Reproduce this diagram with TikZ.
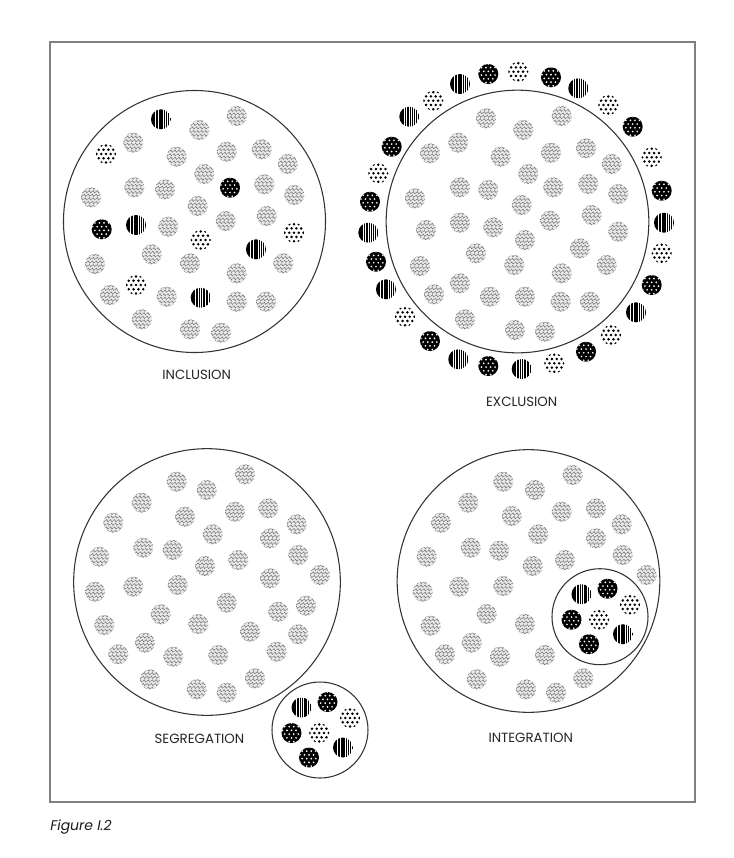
\documentclass[tikz,border=0pt]{standalone}
\usepackage{fontspec}
\usetikzlibrary{calc}
\newfontfamily\labfont{Poppins}
\tikzset{
  dotbase/.style={circle, inner sep=0pt, minimum size=15pt},
  dotG/.style={dotbase, fill=black!9, path picture={
    \begin{scope}[shift={(path picture bounding box.center)}, x=1pt, y=1pt]
      \foreach \v/\o in {-6.6/0.75, -3.9/0, -1.2/0.75, 1.5/0, 4.2/0.75, 6.9/0}
        \foreach \u in {-7.5,-4.5,...,7.5}
          {\draw[black!55, line width=0.38pt]
             (\u-1.3+\o,\v) .. controls (\u-0.7+\o,\v+1.1) and (\u-0.1+\o,\v+1.1) .. (\u+\o,\v)
             .. controls (\u+0.1+\o,\v-1.1) and (\u+0.7+\o,\v-1.1) .. (\u+1.3+\o,\v);}
    \end{scope}}},
  dotK/.style={dotbase, fill=black, path picture={
    \begin{scope}[shift={(path picture bounding box.center)}, x=1pt, y=1pt]
      \foreach \v/\o in {-6.4/1.7, -3.6/0, -0.8/1.7, 2.0/0, 4.8/1.7, 7.6/0}
        \foreach \u in {-6.8,-3.4,...,6.8}
          {\fill[white] (\u+\o,\v) circle (0.72);}
    \end{scope}}},
  dotW/.style={dotbase, path picture={
    \begin{scope}[shift={(path picture bounding box.center)}, x=1pt, y=1pt]
      \foreach \v/\o in {-6.4/1.8, -3.2/0, 0/1.8, 3.2/0, 6.4/1.8}
        \foreach \u in {-9,-5.4,...,9}
          {\fill[black] (\u+\o,\v) circle (1.05);}
    \end{scope}}},
  dotS/.style={dotbase, path picture={
    \begin{scope}[shift={(path picture bounding box.center)}, x=1pt, y=1pt]
      \fill[black] (-8,-8) rectangle (-4.2,8);
      \foreach \a/\w in {-3.4/1.2, -1.5/1.2, 0.3/1.0, 2.0/1.0, 3.6/0.8, 5.0/0.8, 6.4/0.6}
        {\fill[black] (\a,-8) rectangle ++(\w,16);}
    \end{scope}}},
  bigring/.style={circle, draw=black!80, line width=0.8pt, inner sep=0pt},
  lab/.style={font=\labfont\fontsize{10}{12}\selectfont, text=black!85, inner sep=0pt},
}
\begin{document}
\begin{tikzpicture}[x=0.75pt, y=-0.75pt]
\useasboundingbox (0,0) rectangle (734,858);
\fill[white] (0,0) rectangle (734,858);
% frame
\draw[black!50, line width=1.1pt] (50,42) rectangle (695,802);

% big circles
\node[bigring, minimum size=196.5pt] (incC) at (194.5,221.5) {};
\node[bigring, minimum size=197pt] (excC) at (517.5,221.5) {};
\node[bigring, minimum size=200pt] (segC) at (207,582) {};
\node[bigring, minimum size=197pt] (intC) at (528.5,581) {};
\node[bigring, minimum size=72pt] (segS) at (320,730) {};
\node[bigring, minimum size=72pt] (intS) at (600,616.7) {};

% INCLUSION
\foreach \t/\x/\y [count=\i] in {
 S/161/119.3, G/236.7/116, G/199.3/130, G/133.3/142.7, W/106/154, G/176.7/156.7,
 G/226.7/151.7, G/261.7/149.3, G/287.7/164, G/204.3/174, K/230/187.7, G/134.3/187.3,
 G/165/189.3, G/91/197.3, G/264.3/184.3, G/294.3/195, G/197.7/206, G/225.7/221,
 G/266.7/216, K/101.7/229.3, S/136/225, G/168.3/226.7, W/200.7/240, W/294/232.7,
 S/256/249.3, G/151.7/254.3, G/190/263.3, G/236.7/273.3, G/283.3/263.3, G/95/264,
 W/136/285, G/110/295, G/166.7/296.7, S/200.7/297.7, G/236.7/301.7, G/266/301.7,
 G/141.7/319.3, G/190/329.3, G/221/332.7}
 {\node[dot\t] (inc\i) at (\x,\y) {};}

% EXCLUSION inner
\foreach \x/\y [count=\i] in {
 486/118.3, 561.7/116, 523.3/130, 458.3/142.7, 430/153.3, 500.7/156.7, 551/152.7,
 586/148.3, 611.7/164, 528.3/174, 460/187.3, 488.3/190, 553.3/187.3, 588.3/184,
 618.3/194, 415/198.3, 521.7/205, 426/230, 460/222.7, 493.3/227.3, 550/220.7,
 591.7/215, 618.3/231.7, 525/240, 476/253.3, 580/248.3, 420/266, 514.3/265,
 561.7/273.3, 606.7/265, 460/283.3, 434/294.3, 490/296.7, 525/296.7, 560.7/301.7,
 590/301.7, 465/319.3, 515/330, 545/331.7}
 {\node[dotG] (exc\i) at (\x,\y) {};}

% EXCLUSION ring
\foreach \t/\x/\y [count=\i] in {
 W/518.3/71.7, K/551/77.3, S/578.3/88.3, W/608.3/105, K/632.7/126.7, W/651.7/157.3,
 K/661.7/190.7, S/664/222.7, W/661.7/253.3, K/651.7/285, S/636/312.3, W/611/335,
 K/586/351.7, W/554.3/363.3, S/521.7/369, K/488.3/366, S/458.3/359.3, K/430/341,
 W/405/316.7, S/386/289.3, K/376/261.7, S/368.3/232.7, K/370/201.7, W/378.3/173.3,
 K/391.7/146.7, S/409.3/116.7, W/433.3/100.7, S/460/84, K/488.3/74}
 {\node[dot\t] (ring\i) at (\x,\y) {};}

% SEGREGATION
\foreach \x/\y [count=\i] in {
 176.7/481.7, 206.7/490, 245/474.3, 141.7/502.7, 185/516.7, 235/511.7, 268.3/508.3,
 113.3/522.7, 212.7/534.3, 270/538.3, 296.7/524.3, 143.3/547.7, 172.7/550, 205/566,
 238.3/560, 298.3/555, 320/575, 99.3/556.7, 95/591.7, 133.3/586.7, 177.7/585,
 160.7/614.3, 198.3/624, 226.7/602.7, 270/578.3, 278.3/611.7, 306/605.7, 250/631.7,
 298.3/634.3, 104.3/625, 145/642.7, 118.3/654.3, 173.3/656.7, 218.3/655, 276.7/651.7,
 150/679.3, 255/678.3, 196.7/689.3, 226.7/692.7}
 {\node[dotG] (seg\i) at (\x,\y) {};}
\foreach \t/\dx/\dy [count=\i] in {
 S/-18.5/-22.5, K/7.5/-28, W/30/-12, K/-28.5/3, W/-0.8/3, S/23/17.5, K/-11/27.5}
 {\node[dot\t] (segx\i) at ($(320,730)+(\dx,\dy)$) {};}

% INTEGRATION
\foreach \x/\y [count=\i] in {
 503.3/481.7, 535/490, 572.7/475, 468.3/502.7, 511.7/516, 561.7/511.7, 596/508.3,
 441/522.7, 538.3/534.3, 596/538.3, 621.7/524.3, 470.7/547.7, 499.3/550.7, 532.7/566,
 565/560, 622.7/555, 646.7/575, 426.7/556.7, 422.7/591.7, 459.3/586.7, 503.3/586,
 486.7/614, 525/624, 430.7/625.7, 471.7/642.7, 445/654.3, 500/656.7, 545/655,
 476.7/679.3, 583.3/678.3, 526/689.3, 556/692.7}
 {\node[dotG] (int\i) at (\x,\y) {};}
\foreach \t/\dx/\dy [count=\i] in {
 S/-18.5/-22.5, K/7.5/-28, W/30/-12, K/-28.5/3, W/-0.8/3, S/23/17.5, K/-11/27.5}
 {\node[dot\t] (intx\i) at ($(600,616.7)+(\dx,\dy)$) {};}

% labels
\node[lab] (incL) at (196.7,374.5) {INCLUSION};
\node[lab] (excL) at (521.7,402) {EXCLUSION};
\node[lab] (segL) at (199.5,738.7) {SEGREGATION};
\node[lab] (intL) at (530.8,738) {INTEGRATION};
\node[anchor=base west, inner sep=0pt, font=\labfont\itshape\fontsize{10.5}{12}\selectfont, text=black!90] (cap) at (50,830) {Figure I.2};
\end{tikzpicture}
\end{document}
